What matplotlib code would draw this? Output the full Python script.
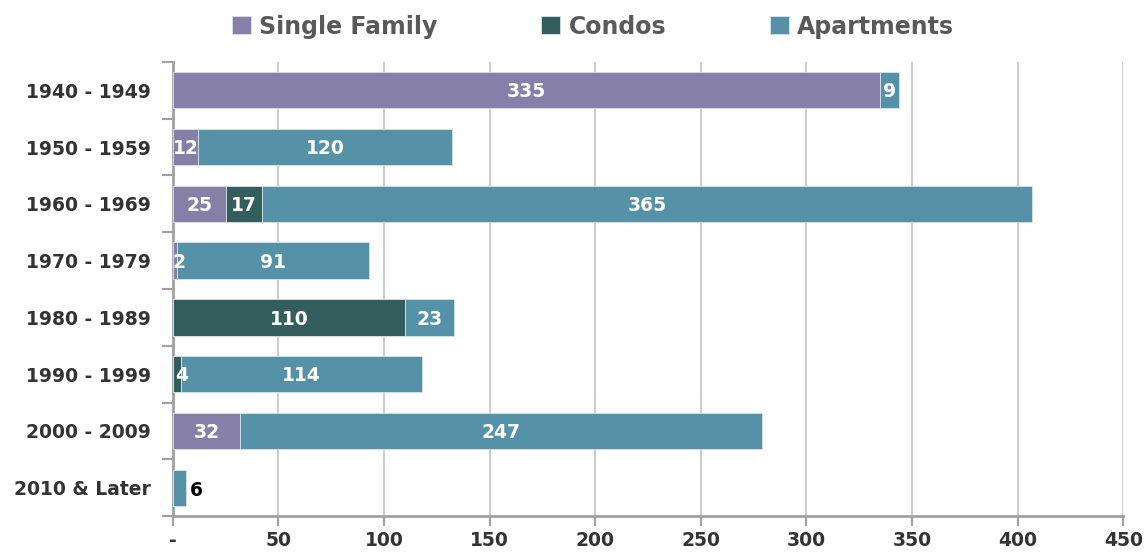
import matplotlib.pyplot as plt
import numpy as np
from matplotlib.ticker import FixedLocator

# data
periods = ["1940 - 1949", "1950 - 1959", "1960 - 1969", "1970 - 1979",
           "1980 - 1989", "1990 - 1999", "2000 - 2009", "2010 & Later"]
single_family = [335, 12, 25, 2, 0, 0, 32, 0]
condos = [0, 0, 17, 0, 110, 4, 0, 0]
apartments = [9, 120, 365, 91, 23, 114, 247, 6]

x_ticks = [0, 50, 100, 150, 200, 250, 300, 350, 400, 450]
x_tick_labels = ["-", "50", "100", "150", "200", "250", "300", "350", "400", "450"]

colors = {"Single Family": "#8680a9", "Condos": "#335e5d", "Apartments": "#5591a7"}

fig = plt.figure(figsize=(11.45, 5.52), dpi=100)
ax = fig.add_axes([0.151, 0.065, 0.830, 0.823])

y = np.arange(len(periods))
left = np.zeros(len(periods))
series = [("Single Family", single_family), ("Condos", condos), ("Apartments", apartments)]

for name, vals in series:
    vals = np.array(vals)
    bars = ax.barh(y, vals, left=left, height=0.64, color=colors[name],
                   edgecolor="#d8e4ea", linewidth=0.6, label=name, zorder=3)
    for i, (b, v) in enumerate(zip(bars, vals)):
        if v == 0:
            continue
        cx = left[i] + v / 2
        if periods[i] == "2010 & Later":
            ax.text(left[i] + v + 2, i + 0.05, str(v), ha="left", va="center",
                    color="black", fontsize=13.5, fontweight="bold", zorder=4)
        else:
            if v < 5:
                cx = left[i] + v / 2 + 2
            ax.text(cx, i + 0.03, str(v), ha="center", va="center",
                    color="white", fontsize=13.5, fontweight="bold", zorder=4)
    left = left + vals

ax.set_xlim(0, 450)
ax.set_ylim(len(periods) - 0.5, -0.5)
ax.set_xticks(x_ticks)
ax.set_xticklabels(x_tick_labels, fontsize=13.5, fontweight="bold", color="#333333")
ax.set_yticks(y)
ax.set_yticklabels(periods, fontsize=13.5, fontweight="bold", color="#333333")
ax.tick_params(axis="y", which="major", length=0, pad=16)
ax.yaxis.set_minor_locator(FixedLocator(np.arange(-0.5, len(periods), 1)))
ax.tick_params(axis="y", which="minor", length=8, width=1.5, color="#a0a0a0")
ax.tick_params(axis="x", which="major", length=7, width=1.5, color="#a0a0a0", pad=4)

ax.grid(axis="x", color="#c4c4c4", linewidth=1.2, zorder=0)
ax.set_axisbelow(True)
for s in ["top", "right"]:
    ax.spines[s].set_visible(False)
for s in ["left", "bottom"]:
    ax.spines[s].set_color("#a0a0a0")
    ax.spines[s].set_linewidth(2)

leg = fig.legend(loc="upper center", bbox_to_anchor=(0.518, 1.012), ncol=3,
                 frameon=False, handlelength=0.8, handleheight=0.8,
                 handletextpad=0.35, columnspacing=4.4,
                 prop={"size": 17, "weight": "bold"})
for t in leg.get_texts():
    t.set_color("#595959")

fig.savefig("out.png", dpi=100)
